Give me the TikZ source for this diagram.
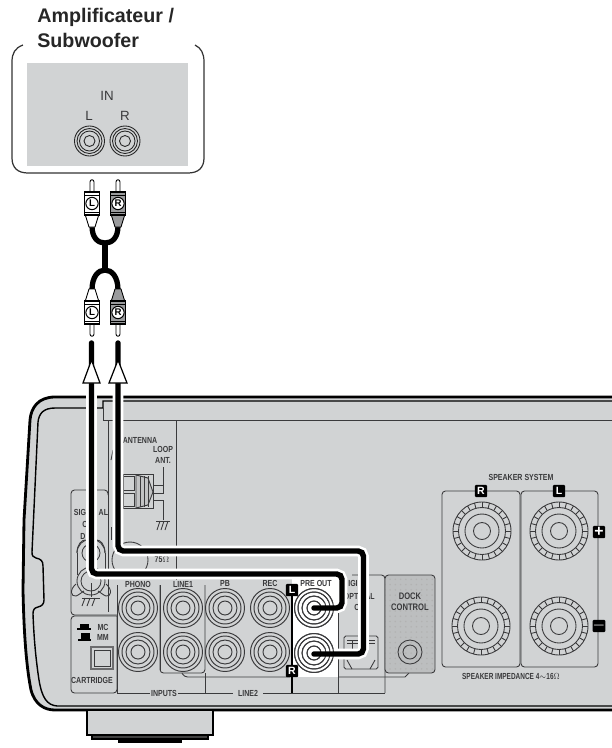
\documentclass[tikz,border=0pt]{standalone}
\usepackage{fontspec}
\setmainfont{Liberation Sans}
\usepackage{xcolor}
\usetikzlibrary{patterns}
\definecolor{panelgray}{HTML}{D1D3D4}
\definecolor{linegray}{HTML}{3A3A3C}
\definecolor{plugdark}{HTML}{9A9B9D}
\tikzset{
  cable/.style={line width=3.1pt,black},
  halo/.style={line width=6pt,white},
  thinl/.style={line width=.5pt,linegray},
  lbl/.style={inner sep=0pt,transform shape,xscale=.8,text=linegray,font=\fontsize{5}{6}\selectfont\bfseries},
  badge/.style={fill=black,text=white,rounded corners=.6pt,inner sep=0pt,minimum width=7pt,minimum height=7pt,font=\fontsize{6}{6}\selectfont\bfseries},
}
\begin{document}
\begin{tikzpicture}[x=0.02cm,y=-0.02cm]
\useasboundingbox (0,0) rectangle (612,748);

% amplifier
\node[anchor=base west,inner sep=0pt,font=\fontsize{11.2}{12}\selectfont\bfseries,text=black!85] (ampa) at (37,22.5) {Amplificateur /};
\node[anchor=base west,inner sep=0pt,font=\fontsize{11.2}{12}\selectfont\bfseries,text=black!85] (ampb) at (37,47) {Subwoofer};
\draw[line width=.7pt,black!80] (23,45) .. controls (15,48) and (12,53) .. (12,62) -- (12,158) .. controls (12,168) and (18,173) .. (28,173) -- (188,173) .. controls (198,173) and (204,168) .. (204,158) -- (204,62) .. controls (204,53) and (201,48) .. (195,45);
\fill[panelgray] (27,63) rectangle (188,166);
\node[inner sep=0pt,text=linegray,font=\fontsize{7.6}{8}\selectfont] (ampin) at (107,96) {IN};
\node[inner sep=0pt,text=linegray,font=\fontsize{7.6}{8}\selectfont] (ampl) at (89,116) {L};
\node[inner sep=0pt,text=linegray,font=\fontsize{7.6}{8}\selectfont] (ampr) at (125,116) {R};
\foreach \jx in {89.5,125}
  \foreach \r in {15,12.5,10,5.5}
    \draw[line width=.5pt,black!85] (\jx,141) circle[radius=\r];

% cables and plugs
\draw[line width=3pt,black] (92,226) .. controls (92,238) and (98,243) .. (105,243) .. controls (112,243) and (118,238) .. (118,226);
\draw[line width=3pt,black] (105,243) -- (105,270);
\draw[line width=3pt,black] (92,290) .. controls (92,277) and (98,270) .. (105,270) .. controls (112,270) and (118,277) .. (118,290);
\foreach \px/\py/\dir/\shade/\ltr/\nm in {92/203/1/white/L/plugua,118/203/1/plugdark/R/plugub,92/313/-1/white/L/plugla,118/313/-1/plugdark/R/pluglb}{
  \begin{scope}[shift={(\px,\py)},yscale=\dir]
    \draw[line width=.5pt,fill=white] (-2,-11) -- (-2,-21) .. controls (-2,-24) and (2,-24) .. (2,-21) -- (2,-11);
    \draw[line width=.5pt,fill=\shade] (-3,12) -- (-2.5,24) -- (2.5,24) -- (3,12);
    \draw[line width=.5pt,fill=\shade] (-3,11) -- (-7,11) -- (-3,24) -- (3,24) -- (7,11) -- cycle;
    \draw[line width=.6pt,fill=\shade] (-7.5,-11) rectangle (7.5,12);
    \draw[line width=.5pt] (-7.5,-8) -- (7.5,-8);
    \draw[line width=.5pt] (-7.5,9) -- (7.5,9);
    \node[circle,draw,fill=white,line width=.6pt,inner sep=0pt,minimum size=7pt,font=\fontsize{5.5}{6}\selectfont\bfseries] (\nm) at (0,.5) {\ltr};
  \end{scope}
}

% receiver body
\fill[panelgray] (612,397) -- (55,397) .. controls (38,397) and (31,408) .. (30,420) -- (24,520) -- (23,590) .. controls (24,640) and (27,670) .. (31,690) .. controls (35,705) and (45,710) .. (55,710) -- (612,710) -- cycle;
\draw[line width=1.6pt,black] (612,397) -- (55,397) .. controls (38,397) and (31,408) .. (30,420) -- (24,520) -- (23,590) .. controls (24,640) and (27,670) .. (31,690) .. controls (35,705) and (45,710) .. (55,710) -- (612,710);
\draw[line width=.8pt,black] (612,401) -- (103,401) -- (103,408) -- (55,408) .. controls (44,408) and (39,413) .. (38,422) -- (32,552) .. controls (32,556) and (33,557) .. (36,558) .. controls (41,559) and (43,561) .. (43,566) -- (44,600) .. controls (44,604) and (42,606) .. (38,607) .. controls (34,608) and (33,610) .. (33,614) .. controls (34,640) and (36,660) .. (39,680) .. controls (42,698) and (47,705) .. (57,706) -- (612,706);

% foot
\draw[line width=1.2pt,fill=panelgray] (87,711) -- (87,735) -- (213,735) -- (213,711);
\draw[line width=1.2pt,fill=black!75] (92,735) rectangle (208,739);
\fill[black] (118,739) rectangle (182,743);

% panels
\draw[thinl] (103,408) -- (103,420) -- (612,420);
\draw[thinl] (108,420) -- (108,490);
\draw[thinl] (176,420) -- (176,580);
\draw[thinl] (113,450) -- (111,460);
\draw[thinl] (111,527) -- (111,540);
\draw[thinl,rounded corners=2pt] (108,495) -- (108,490) -- (71,490) -- (71,615) -- (117,615);
\draw[thinl] (108,490) -- (108,612);
\draw[thinl,rounded corners=2pt] (117,616) -- (71,616) -- (71,693) -- (117,693) -- (117,616);
\draw[thinl] (117,585) -- (117,693);
\draw[thinl] (160,585) -- (160,670);
\draw[thinl,rounded corners=2pt] (160,585) -- (160,673) -- (205,673) -- (205,585);
\draw[thinl] (205,673) -- (205,693);
\draw[thinl,rounded corners=2pt] (182,673) -- (184,677) -- (290,677);
\draw[thinl,rounded corners=2pt] (117,693) -- (150,693);
\draw[thinl] (178,693) -- (233,693);
\draw[thinl] (263,693) -- (385,693);
\draw[thinl] (338,575) -- (338,693);
\draw[thinl,rounded corners=2pt] (352,575) -- (385,575) -- (385,693);
\draw[thinl] (338,677) -- (405,677) -- (409,673);

% signal ground and cartridge
\node[lbl] (signala) at (91,512) {SIG\hspace{9pt}AL};
\node[lbl] (signalb) at (85,524) {C};
\node[lbl] (signalc) at (83,536) {D};
\draw[thinl] (77,553) arc[start angle=180,end angle=360,radius=14];
\draw[thinl] (77,553) .. controls (77,544) and (82,540) .. (85,540);
\draw[thinl] (105,553) .. controls (105,544) and (100,540) .. (97,540);
\draw[thinl] (77,553) -- (77,575);
\draw[thinl] (105,553) -- (105,575);
\draw[thinl] (91,553) circle[radius=9];
\draw[thinl,fill=panelgray] (91,581) circle[radius=14];
\draw[thinl] (91,581) circle[radius=10];
\draw[thinl] (76,584) .. controls (69,590) and (71,597) .. (76,596) .. controls (79,595) and (82,592) .. (84,591);
\draw[thinl] (106,584) .. controls (113,590) and (111,597) .. (106,596) .. controls (103,595) and (100,592) .. (98,591);
\draw[thinl] (91,583) -- (91,597);
\draw[thinl] (82,598) -- (100,598);
\foreach \gx in {85,90,95}
  \draw[thinl] (\gx,598) -- (\gx-3,606);
\fill[black] (80,624) rectangle (89,628);
\fill[black] (77,628) rectangle (91,630);
\fill[black] (81,633) rectangle (90,639);
\fill[black] (78,639) rectangle (91,641);
\node[lbl] (cartmc) at (103,627) {MC};
\node[lbl] (cartmm) at (103,637) {MM};
\draw[line width=.9pt,plugdark!70!black] (91,647) rectangle (113,669);
\draw[thinl] (94,650) rectangle (110,666);
\node[lbl] (cartridge) at (92,680) {CARTRIDGE};

% antenna
\node[lbl] (antenna) at (140,440) {ANTENNA};
\node[lbl] (loopa) at (163,449) {LOOP};
\node[lbl] (loopb) at (163,460) {ANT.};
\draw[thinl] (123,474) rectangle (153,508);
\draw[thinl] (123,476) rectangle (134,490);
\draw[thinl] (123,493) rectangle (134,506);
\draw[thinl,fill=plugdark!60] (136,475) -- (148,478) -- (153,492) -- (148,505) -- (136,508) -- cycle;
\foreach \sx in {140,144,148}
  \draw[thinl] (\sx,476) -- (\sx,507);
\draw[thinl] (163,467) -- (163,485) -- (153,485);
\draw[thinl] (153,493) -- (163,493) -- (163,485);
\draw[thinl] (153,500) -- (163,500) -- (163,520);
\draw[thinl] (156,521) -- (170,521);
\foreach \gx in {160,164,168}
  \draw[thinl] (\gx,521) -- (\gx-3,530);
\draw[thinl] (130,560) circle[radius=18];
\node[lbl] (ohms) at (162,560) {75$\Omega$};

% jacks
\fill[white] (292,570) rectangle (338,677);
\foreach \jx/\jy in {138/608,138/652,183/608,183/652,225/608,225/652,270/608,270/652,314/608,314/653}
  \foreach \r in {19.5,16,12,7}
    \draw[line width=.55pt,linegray] (\jx,\jy) circle[radius=\r];
\node[lbl] (phono) at (138,584) {PHONO};
\node[lbl] (lineone) at (183,584) {LINE1};
\node[lbl] (pb) at (225,583) {PB};
\node[lbl] (rec) at (270,583) {REC};
\node[lbl] (preout) at (316,583) {PRE OUT};
\node[lbl] (inputs) at (164,693) {INPUTS};
\node[lbl] (linetwo) at (248,693) {LINE2};
\draw[line width=.6pt,black] (292,590) -- (292,693);
\node[badge] (badgel) at (292,590) {L};
\node[badge] (badger) at (292,671) {R};

% optical
\node[lbl] (opta) at (353,583) {IGI};
\node[lbl,anchor=east] (optb) at (375,596) {OPTICAL};
\node[lbl] (optc) at (357,607) {C};
\draw[thinl,rounded corners=1pt] (344,636) rectangle (378,669);
\draw[thinl] (347,640) -- (375,640);
\draw[thinl] (347,643) -- (375,643);
\draw[thinl] (352,640) -- (352,650);
\draw[thinl] (352,669) -- (347,660);
\draw[thinl] (370,669) -- (375,660);

% dock
\fill[panelgray!90!black,rounded corners=2pt] (385,575) rectangle (435,673);
\fill[pattern=dots,pattern color=black!30,rounded corners=2pt] (385,575) rectangle (435,673);
\draw[thinl,rounded corners=2pt] (385,575) rectangle (435,673);
\node[lbl,font=\fontsize{5.4}{6}\selectfont\bfseries] (docka) at (410,596) {DOCK};
\node[lbl,font=\fontsize{5.4}{6}\selectfont\bfseries] (dockb) at (410,607) {CONTROL};
\draw[thinl] (410,652) circle[radius=12];
\draw[thinl] (410,652) circle[radius=7];

% speaker terminals
\node[lbl] (speaker) at (521,477) {SPEAKER SYSTEM};
\draw[thinl,rounded corners=2pt] (442,491) rectangle (520,667);
\draw[thinl,rounded corners=2pt] (521,491) rectangle (598,667);
\foreach \jx/\jy in {482/531,559/531,481/626,559/626}{
  \begin{scope}[shift={(\jx,\jy)}]
    \draw[thinl] (0,0) circle[radius=29];
    \draw[thinl] (0,0) circle[radius=23.5];
    \draw[thinl] (0,0) circle[radius=17];
    \draw[thinl] (0,0) circle[radius=8.5];
    \foreach \a in {0,15,...,345}
      \draw[thinl] (\a:23.5) -- (\a:29);
  \end{scope}
}
\node[badge] (badgesr) at (481,491) {R};
\node[badge] (badgesl) at (559,491) {L};
\node[badge,font=\fontsize{9}{9}\selectfont\bfseries] (badgep) at (599,532) {+};
\node[badge,font=\fontsize{9}{9}\selectfont\bfseries] (badgem) at (599,626) {$-$};
\node[lbl,xscale=.92] (impedance) at (511,676) {SPEAKER IMPEDANCE 4$\sim$16$\Omega$};

% connection
\draw[halo,rounded corners=3pt] (91.5,383) -- (91.5,574) -- (342,574) -- (342,608) -- (322,608);
\draw[halo,rounded corners=3pt] (118,383) -- (118,551) -- (363.5,551) -- (363.5,654) -- (322,654);
\foreach \jx/\jy in {314/608,314/653}
  \foreach \r in {19.5,16,12,7}
    \draw[line width=.55pt,linegray] (\jx,\jy) circle[radius=\r];
\draw[cable,rounded corners=3pt,line cap=round] (91.5,343) -- (91.5,574) -- (342,574) -- (342,608) -- (314,608);
\draw[cable,rounded corners=3pt,line cap=round] (118,343) -- (118,551) -- (363.5,551) -- (363.5,654) -- (314,654);
\draw[line width=.7pt,fill=white] (91.5,360) -- (100,383) -- (83,383) -- cycle;
\draw[line width=.7pt,fill=white] (118,360) -- (127,383) -- (109,383) -- cycle;
\end{tikzpicture}
\end{document}
